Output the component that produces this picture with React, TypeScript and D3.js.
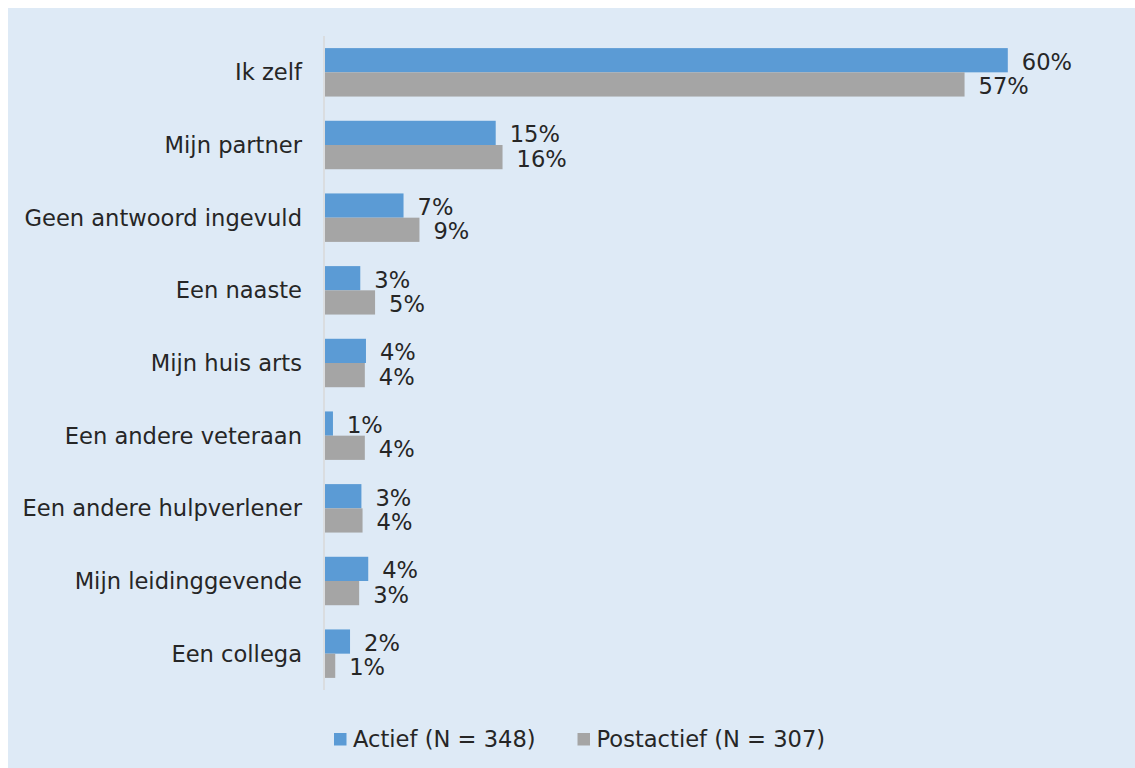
import React from "react";
import * as d3 from "d3";

const categories = [
  "Ik zelf",
  "Mijn partner",
  "Geen antwoord ingevuld",
  "Een naaste",
  "Mijn huis arts",
  "Een andere veteraan",
  "Een andere hulpverlener",
  "Mijn leidinggevende",
  "Een collega",
];

const seriesNames = ["Actief (N = 348)", "Postactief (N = 307)"];

const actiefValues = [60.0, 15.0, 6.9, 3.1, 3.6, 0.7, 3.2, 3.8, 2.2];
const postactiefValues = [56.2, 15.6, 8.3, 4.4, 3.5, 3.5, 3.3, 3.0, 0.9];

const actiefLabels = ["60%", "15%", "7%", "3%", "4%", "1%", "3%", "4%", "2%"];
const postactiefLabels = ["57%", "16%", "9%", "5%", "4%", "4%", "4%", "3%", "1%"];

const colors = ["#5B9BD5", "#A5A5A5"];

const W = 1135;
const H = 768;
const FONT = "'DejaVu Sans', Verdana, sans-serif";
const TEXT = "#262626";
const FS = 22.6;

export default function App() {
  const x = d3.scaleLinear().domain([0, 70]).range([325, 325 + 70 * 11.38]);
  const y = d3
    .scaleBand<string>()
    .domain(categories)
    .range([36, 690])
    .paddingInner(1 / 3)
    .paddingOuter(1 / 6);
  const ys = d3
    .scaleBand<string>()
    .domain(seriesNames)
    .range([0, y.bandwidth()])
    .padding(0);

  const series = [
    { name: seriesNames[0], values: actiefValues, labels: actiefLabels, color: colors[0] },
    { name: seriesNames[1], values: postactiefValues, labels: postactiefLabels, color: colors[1] },
  ];

  const legendX = [334, 577.5];

  return (
    <svg
      width={W}
      height={H}
      style={{ position: "absolute", left: 0, top: 0, display: "block" }}
      fontFamily={FONT}
    >
      <rect x={0} y={0} width={W} height={H} fill="#ffffff" />
      <rect x={8} y={8} width={W - 8} height={H - 8} fill="#DEEAF6" />

      {series.map((s) =>
        categories.map((c, i) => (
          <rect
            key={s.name + c}
            x={x(0)}
            y={(y(c) as number) + (ys(s.name) as number)}
            width={x(s.values[i]) - x(0)}
            height={ys.bandwidth()}
            fill={s.color}
          />
        ))
      )}

      <line x1={324} x2={324} y1={36} y2={690} stroke="#D9D9D9" strokeWidth={1.5} />

      {categories.map((c) => (
        <text
          key={c}
          x={302}
          y={(y(c) as number) + y.bandwidth() / 2}
          dy="0.36em"
          textAnchor="end"
          fontSize={FS}
          fill={TEXT}
        >
          {c}
        </text>
      ))}

      {series.map((s) =>
        categories.map((c, i) => (
          <text
            key={"l" + s.name + c}
            x={x(s.values[i]) + 14}
            y={(y(c) as number) + (ys(s.name) as number) + ys.bandwidth() / 2}
            dy="0.42em"
            fontSize={FS}
            fill={TEXT}
          >
            {s.labels[i]}
          </text>
        ))
      )}

      {series.map((s, i) => (
        <g key={"lg" + s.name}>
          <rect x={legendX[i]} y={733} width={12.5} height={12.5} fill={s.color} />
          <text x={legendX[i] + 19} y={747} fontSize={FS} fill={TEXT}>
            {s.name}
          </text>
        </g>
      ))}
    </svg>
  );
}
